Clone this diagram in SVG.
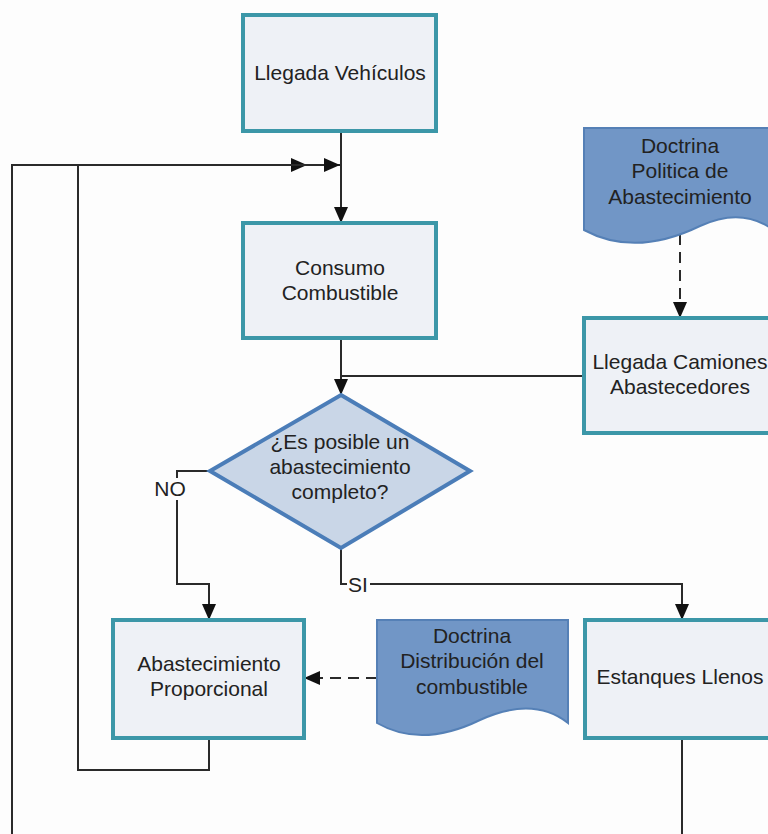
<svg xmlns="http://www.w3.org/2000/svg" width="768" height="834" viewBox="0 0 768 834">
  <style>
    .box { fill: #eef1f6; stroke: #3c97a8; stroke-width: 4; }
    .doc { fill: #7196c6; stroke: #5580b6; stroke-width: 2; }
    .dec { fill: #c9d6e7; stroke: #4b7db8; stroke-width: 4; }
    .lbl { font-family: "Liberation Sans", Arial, sans-serif; font-size: 21px; fill: #222; text-anchor: middle; }
    .line { fill: none; stroke: #2a2a2a; stroke-width: 2; }
    .dash { stroke-dasharray: 11 7; }
  </style>
  <defs>
    <marker id="arr" viewBox="0 0 16 14" refX="16" refY="7" markerWidth="16" markerHeight="14" orient="auto" markerUnits="userSpaceOnUse">
      <path d="M0,0 L16,7 L0,14 z" fill="#111"/>
    </marker>
  </defs>
  <rect width="768" height="834" fill="#fdfdfd"/>

  <g id="connectors">
    <path class="line" d="M12,834 V165 H307" marker-end="url(#arr)"/>
    <path class="line" d="M209,738 V770 H78 V165 H340" marker-end="url(#arr)"/>
    <path class="line" d="M341,131 V223" marker-end="url(#arr)"/>
    <path class="line" d="M341,338 V395" marker-end="url(#arr)"/>
    <path class="line" d="M584,376 H341"/>
    <path class="line" d="M210,471 H177 V584 H209 V620" marker-end="url(#arr)"/>
    <path class="line" d="M341,548 V584 H682 V620" marker-end="url(#arr)"/>
    <path class="line dash" d="M680,234 V318" marker-end="url(#arr)"/>
    <path class="line dash" d="M377,678 H304" marker-end="url(#arr)"/>
    <path class="line" d="M682,738 V834"/>
    <rect x="152" y="478" width="36" height="22" fill="#fdfdfd"/>
    <text class="lbl" x="170" y="496">NO</text>
    <rect x="347" y="574" width="23" height="22" fill="#fdfdfd"/>
    <text class="lbl" x="358" y="592">SI</text>
  </g>

  <g id="llegada-vehiculos">
    <rect class="box" x="243" y="15" width="193" height="116"/>
    <text class="lbl" x="340" y="80">Llegada Vehículos</text>
  </g>

  <g id="consumo-combustible">
    <rect class="box" x="243" y="223" width="193" height="115"/>
    <text class="lbl" x="340" y="275">Consumo</text>
    <text class="lbl" x="340" y="300">Combustible</text>
  </g>

  <g id="doctrina-politica">
    <path class="doc" d="M584,128 H776 V232 C755,215 730,212 700,226 C665,243 625,252 584,230 Z"/>
    <text class="lbl" x="680" y="153">Doctrina</text>
    <text class="lbl" x="680" y="178">Politica de</text>
    <text class="lbl" x="680" y="204">Abastecimiento</text>
  </g>

  <g id="llegada-camiones">
    <rect class="box" x="584" y="318" width="192" height="115"/>
    <text class="lbl" x="680" y="369">Llegada Camiones</text>
    <text class="lbl" x="680" y="394">Abastecedores</text>
  </g>

  <g id="decision">
    <polygon class="dec" points="341,395 470,471 341,548 210,471"/>
    <text class="lbl" x="340" y="449">¿Es posible un</text>
    <text class="lbl" x="340" y="474">abastecimiento</text>
    <text class="lbl" x="340" y="499">completo?</text>
  </g>

  <g id="abastecimiento-proporcional">
    <rect class="box" x="113" y="620" width="191" height="118"/>
    <text class="lbl" x="209" y="671">Abastecimiento</text>
    <text class="lbl" x="209" y="696">Proporcional</text>
  </g>

  <g id="doctrina-distribucion">
    <path class="doc" d="M377,620 H568 V723 C545,705 515,704 480,720 C445,737 410,742 377,723 Z"/>
    <text class="lbl" x="472" y="643">Doctrina</text>
    <text class="lbl" x="472" y="668">Distribución del</text>
    <text class="lbl" x="472" y="694">combustible</text>
  </g>

  <g id="estanques-llenos">
    <rect class="box" x="585" y="620" width="191" height="118"/>
    <text class="lbl" x="680" y="684">Estanques Llenos</text>
  </g>
</svg>
